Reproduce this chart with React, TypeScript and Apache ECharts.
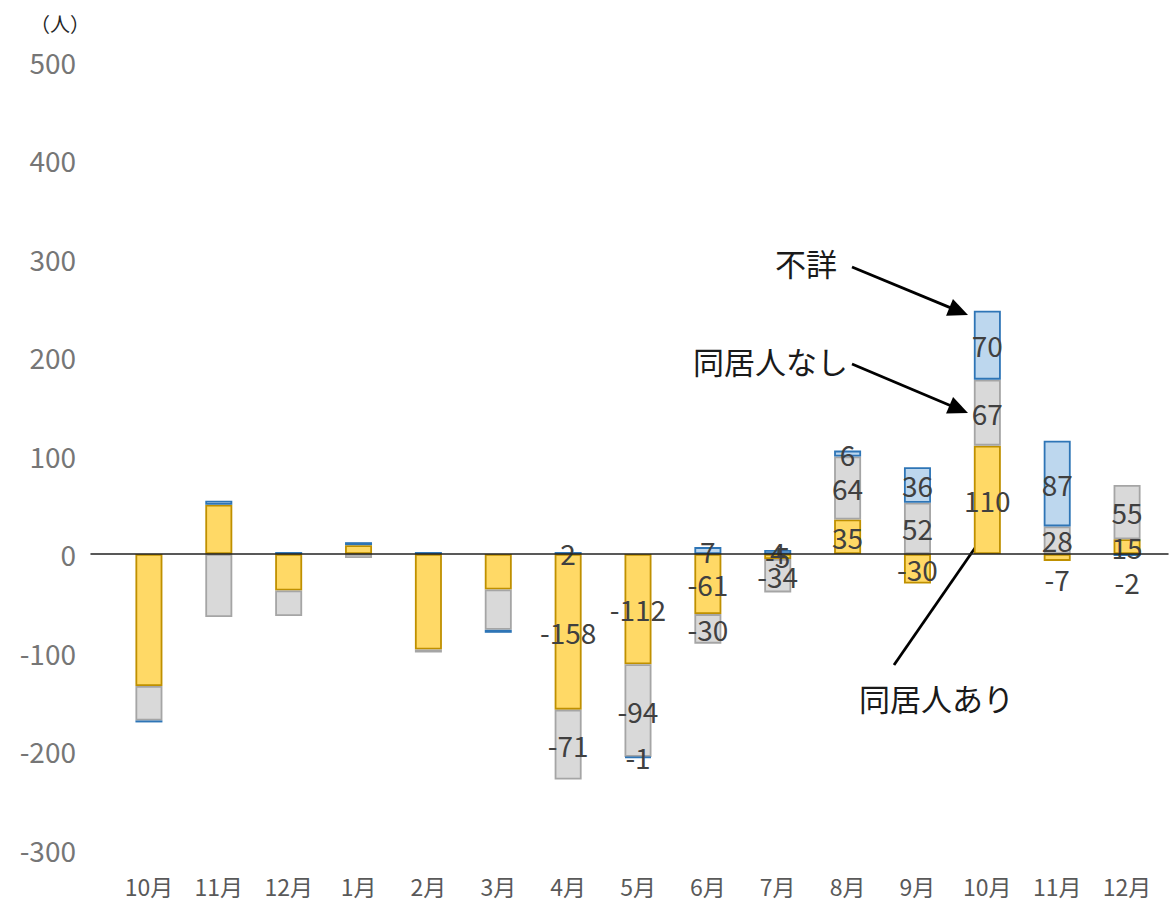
import React, { useEffect, useRef } from "react";
import * as echarts from "echarts";

// ---- data ----
const categories = ["10月", "11月", "12月", "1月", "2月", "3月", "4月", "5月", "6月", "7月", "8月", "9月", "10月", "11月", "12月"];
const withHousemate = [-134, 50, -37, 9, -97, -36, -158, -112, -61, -5, 35, -30, 110, -7, 15];
const withoutHousemate = [-35, -64, -26, -4, -3, -41, -71, -94, -30, -34, 64, 52, 67, 28, 55];
const unknownHousemate = [-2, 4, 2, 3, 2, -3, 2, -1, 7, 4, 6, 36, 70, 87, -2];
const seriesNames = ["同居人あり", "同居人なし", "不詳"];
const yMin = -300;
const yMax = 500;
const yStep = 100;
const firstLabelled = 6;

// ---- style ----
const FONT = "'Noto Sans CJK JP', 'Noto Sans', sans-serif";
const fills = ["#FFD966", "#D9D9D9", "#BDD7EE"];
const borders = ["#BF9000", "#A5A5A5", "#2E75B6"];
const labelNudges: Record<string, Record<number, number[]>> = {
  "同居人あり": { 13: [0, 22] },
  "不詳": { 14: [0, 27] },
};

function buildItems(name: string, values: number[]) {
  return values.map((v, i) => {
    const nudge = labelNudges[name]?.[i];
    const label: any = { show: i >= firstLabelled };
    if (nudge) label.offset = nudge;
    return { value: v, label };
  });
}

function arrow(x1: number, y1: number, x2: number, y2: number) {
  const dx = x2 - x1;
  const dy = y2 - y1;
  const len = Math.sqrt(dx * dx + dy * dy);
  const ux = dx / len;
  const uy = dy / len;
  const L = 20;
  const W = 9;
  const bx = x2 - ux * L;
  const by = y2 - uy * L;
  const nx = -uy;
  const ny = ux;
  return {
    type: "group",
    children: [
      {
        type: "line",
        shape: { x1, y1, x2: bx + ux * 2, y2: by + uy * 2 },
        style: { stroke: "#000", lineWidth: 2.8 },
      },
      {
        type: "polygon",
        shape: {
          points: [
            [x2, y2],
            [bx + nx * W, by + ny * W],
            [bx - nx * W, by - ny * W],
          ],
        },
        style: { fill: "#000" },
      },
    ],
  };
}

export default function App() {
  const ref = useRef<HTMLDivElement>(null);
  useEffect(() => {
    const chart = echarts.init(ref.current!, null, { renderer: "svg" });
    const valueSets = [withHousemate, withoutHousemate, unknownHousemate];
    const option: any = {
      animation: false,
      textStyle: { fontFamily: FONT },
      grid: [
        { left: 114, right: 8, top: 61.5, bottom: 53.5 },
        { left: 91, right: 2, top: 61.5, bottom: 53.5 },
      ],
      xAxis: [
        {
          type: "category",
          gridIndex: 0,
          data: categories,
          axisLine: { show: false, onZero: false },
          axisTick: { show: false },
          axisLabel: { color: "#595959", fontSize: 23, fontFamily: FONT, margin: 25 },
        },
        {
          type: "value",
          gridIndex: 1,
          min: 0,
          max: 1,
          z: 3,
          axisLine: { show: true, onZero: true, lineStyle: { color: "#222", width: 1.5 } },
          axisTick: { show: false },
          axisLabel: { show: false },
          splitLine: { show: false },
        },
      ],
      yAxis: [
        {
          type: "value",
          gridIndex: 0,
          min: yMin,
          max: yMax,
          interval: yStep,
          axisLine: { show: false },
          axisTick: { show: false },
          splitLine: { show: false },
          axisLabel: { color: "#767676", fontSize: 28, fontFamily: FONT, margin: 38, padding: [0, 0, 5, 0] },
        },
        {
          type: "value",
          gridIndex: 1,
          min: yMin,
          max: yMax,
          show: false,
        },
      ],
      series: seriesNames.map((name, k) => ({
        name,
        type: "bar",
        stack: "total",
        xAxisIndex: 0,
        yAxisIndex: 0,
        barWidth: 27,
        itemStyle: { color: fills[k], borderColor: borders[k], borderWidth: 1.8 },
        label: {
          show: true,
          position: "inside",
          color: "#404040",
          fontSize: 28,
          fontFamily: FONT,
          formatter: "{c}",
          padding: [0, 0, 3, 0],
        },
        data: buildItems(name, valueSets[k]),
      })),
      graphic: [
        {
          type: "text",
          left: 30,
          top: 13,
          style: { text: "（人）", fontSize: 20, fill: "#262626", fontFamily: FONT },
        },
        {
          type: "text",
          x: 775,
          y: 262,
          style: { text: "不詳", fontSize: 31, fill: "#1a1a1a", fontFamily: FONT, textVerticalAlign: "middle" },
        },
        {
          type: "text",
          x: 693,
          y: 360,
          style: { text: "同居人なし", fontSize: 31, fill: "#1a1a1a", fontFamily: FONT, textVerticalAlign: "middle" },
        },
        {
          type: "text",
          x: 859,
          y: 697,
          style: { text: "同居人あり", fontSize: 31, fill: "#1a1a1a", fontFamily: FONT, textVerticalAlign: "middle" },
        },
        arrow(852, 267, 968, 315),
        arrow(852, 364, 968, 413),
        arrow(894, 665, 993, 522),
      ],
    };
    chart.setOption(option);
    return () => chart.dispose();
  }, []);
  return <div ref={ref} style={{ position: "absolute", left: 0, top: 0, width: 1170, height: 903 }} />;
}
